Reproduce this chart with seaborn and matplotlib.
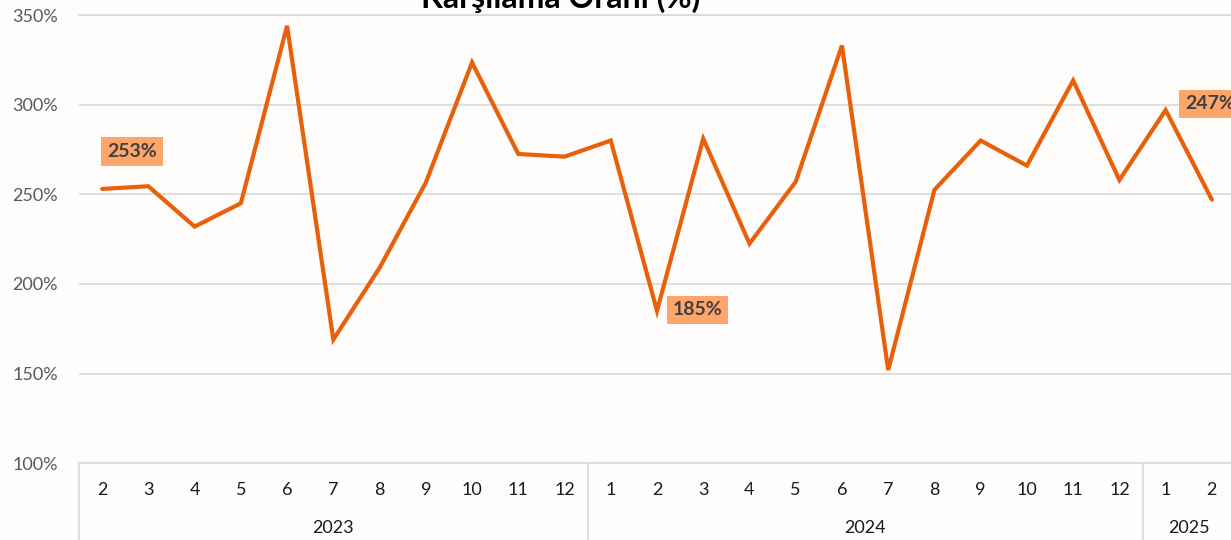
import matplotlib
matplotlib.use("Agg")
import matplotlib.pyplot as plt
import matplotlib.transforms as mtransforms
import seaborn as sns
import pandas as pd

# ---- data ----
months = [2, 3, 4, 5, 6, 7, 8, 9, 10, 11, 12,
          1, 2, 3, 4, 5, 6, 7, 8, 9, 10, 11, 12,
          1, 2]
years = [2023] * 11 + [2024] * 12 + [2025] * 2
ratio = [253, 254.5, 232, 245, 344, 169, 209, 256.5, 323.5, 272.5, 271,
         280, 185, 281, 222.5, 257, 333, 152, 252.5, 280, 266, 313.5, 258,
         297, 247]
year_labels = ["2023", "2024", "2025"]
labelled = {0: "253%", 12: "185%", 24: "247%"}
title = "Karşılama Oranı (%)"
y_ticks = [100, 150, 200, 250, 300, 350]

df = pd.DataFrame({"pos": range(len(ratio)), "month": months,
                   "year": years, "ratio": ratio})

sns.set_theme(style="white")
plt.rcParams["font.family"] = ["Lato", "DejaVu Sans"]

BG = "#FEFDFC"
LINE = "#E8600A"
GRID = "#D9D9D9"
BOX = "#FFA56C"

fig = plt.figure(figsize=(12.31, 5.40), dpi=100, facecolor=BG)
ax = fig.add_axes([79 / 1231, 1 - 463.3 / 540, (1235 - 79) / 1231, (463.3 - 15) / 540])
ax.set_facecolor(BG)

sns.lineplot(data=df, x="pos", y="ratio", ax=ax, color=LINE, linewidth=3,
             solid_capstyle="round", solid_joinstyle="miter", zorder=3)

ax.set_xlim(-0.5, len(ratio) - 0.5)
ax.set_ylim(100, 350)
ax.set_yticks(y_ticks)
ax.set_yticklabels([f"{v}%" for v in y_ticks], color="#595959", fontsize=13)
ax.tick_params(axis="y", length=0, pad=15)
ax.set_xticks([])
ax.set_xlabel("")
ax.set_ylabel("")
ax.grid(axis="y", color=GRID, linewidth=1.2)
for s in ["left", "right"]:
    ax.spines[s].set_visible(False)
for s in ["top", "bottom"]:
    ax.spines[s].set_color(GRID)
    ax.spines[s].set_linewidth(1.2)

# month & year labels
trans = mtransforms.blended_transform_factory(ax.transData, ax.transAxes)
h = 463.3 - 15
for p, m in zip(df["pos"], df["month"]):
    ax.text(p, -27 / h, str(m), transform=trans, ha="center", va="center",
            fontsize=13, color="#1a1a1a")
bounds = []
start = 0
for i in range(1, len(years) + 1):
    if i == len(years) or years[i] != years[i - 1]:
        bounds.append((start, i - 1))
        start = i
for (a, b), yl in zip(bounds, year_labels):
    ax.text((a + b) / 2, -65 / h, yl, transform=trans, ha="center",
            va="center", fontsize=13, color="#1a1a1a")
seps = [-0.5] + [b + 0.5 for a, b in bounds[:-1]]
for sx in seps:
    ax.plot([sx, sx], [0, -80 / h], transform=trans, color=GRID,
            linewidth=1.2, clip_on=False)

# data labels
offsets = {0: (21.6, 27), 12: (29, 0.7), 24: (-1.4, 69)}
for i, txt in labelled.items():
    ax.annotate(txt, (i, ratio[i]), xytext=offsets[i], textcoords="offset points",
                ha="center", va="center", fontsize=14, fontweight="bold",
                color="#404040", annotation_clip=False,
                bbox=dict(boxstyle="square,pad=0.3", fc=BOX, ec="none"),
                zorder=5)

fig.text(561 / 1231, 1 - 8 / 540, title, ha="center", va="baseline",
         fontsize=23, fontweight="bold", color="#000000")

fig.savefig("out.png", dpi=100, facecolor=BG)
